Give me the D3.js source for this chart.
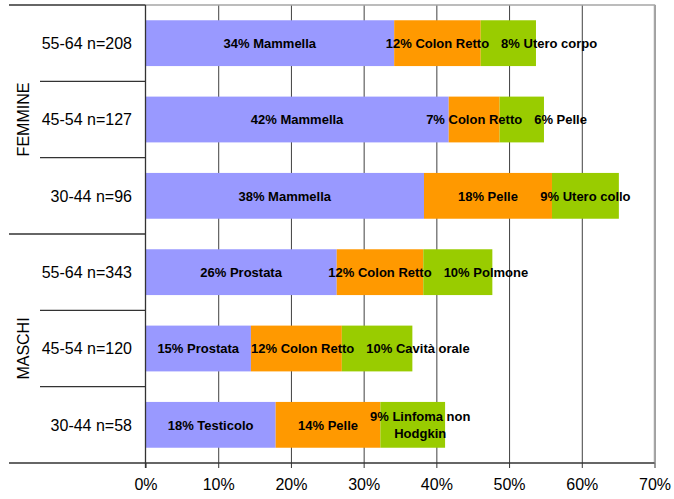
<!DOCTYPE html>
<html>
<head>
<meta charset="utf-8">
<script src="https://cdn.jsdelivr.net/npm/d3@7"></script>
<style>
  body { margin: 0; background: #fff; }
  svg { display: block; font-family: Arial, "Liberation Sans", sans-serif; }
</style>
</head>
<body>
<svg id="chart" width="674" height="499"></svg>
<script>
// rows, top to bottom
const rowLabels = ["55-64 n=208", "45-54 n=127", "30-44 n=96", "55-64 n=343", "45-54 n=120", "30-44 n=58"];
const rowGroups = ["FEMMINE", "FEMMINE", "FEMMINE", "MASCHI", "MASCHI", "MASCHI"];
const groups = ["FEMMINE", "MASCHI"];

// percentages of the three most frequent tumours per row
const firstValues = [34.2, 41.7, 38.3, 26.3, 14.5, 17.9];
const secondValues = [11.9, 7.0, 17.6, 11.9, 12.5, 14.4];
const thirdValues = [7.6, 6.1, 9.2, 9.5, 9.7, 8.9];

const firstLabels = ["34% Mammella", "42% Mammella", "38% Mammella", "26% Prostata", "15% Prostata", "18% Testicolo"];
const secondLabels = ["12% Colon Retto", "7% Colon Retto", "18% Pelle", "12% Colon Retto", "12% Colon Retto", "14% Pelle"];
const thirdLabels = ["8% Utero corpo", "6% Pelle", "9% Utero collo", "10% Polmone", "10% Cavità orale", "9% Linfoma non\nHodgkin"];

const seriesColors = ["#9999FF", "#FF9900", "#99CC00"];
const xTicks = [0, 10, 20, 30, 40, 50, 60, 70];

const svg = d3.select("#chart");
const plot = { left: 145.5, right: 654.5, top: 5, bottom: 463 };

const x = d3.scaleLinear().domain([0, 70]).range([plot.left, plot.right]);
const y = d3.scaleBand().domain(rowLabels.map((d, i) => i))
    .range([plot.top, plot.bottom]).paddingInner(0.4).paddingOuter(0.2);

// stack the three series
const rows = rowLabels.map((name, i) => {
    const vals = [firstValues[i], secondValues[i], thirdValues[i]];
    const labs = [firstLabels[i], secondLabels[i], thirdLabels[i]];
    let acc = 0;
    return vals.map((v, k) => {
        const seg = { row: i, k: k, x0: acc, x1: acc + v, label: labs[k] };
        acc += v;
        return seg;
    });
});

// vertical gridlines
svg.append("g")
    .attr("transform", `translate(0,${plot.bottom})`)
    .call(d3.axisBottom(x).tickValues(xTicks.slice(1)).tickSize(-(plot.bottom - plot.top)).tickFormat(""))
    .call(g => g.select(".domain").remove())
    .selectAll("line").attr("stroke", "#404040");

// bars
svg.append("g")
    .selectAll("g")
    .data(rows)
    .join("g")
    .selectAll("rect")
    .data(d => d)
    .join("rect")
    .attr("x", d => x(d.x0))
    .attr("y", d => y(d.row))
    .attr("width", d => x(d.x1) - x(d.x0))
    .attr("height", y.bandwidth())
    .attr("fill", d => seriesColors[d.k]);

// plot border (top and right, grey)
svg.append("path")
    .attr("d", `M${plot.left},${plot.top}H${plot.right}V${plot.bottom}`)
    .attr("fill", "none")
    .attr("stroke", "#a6a6a6")
    .attr("stroke-width", 1.5);

// bottom axis
const xAxis = svg.append("g")
    .attr("transform", `translate(0,${plot.bottom})`)
    .call(d3.axisBottom(x).tickValues(xTicks).tickSize(5).tickSizeOuter(0).tickFormat(d => d + "%"));
xAxis.select(".domain").remove();
xAxis.selectAll("line").attr("stroke", "#333");
xAxis.selectAll("text")
    .attr("y", 16)
    .attr("font-size", 16)
    .attr("font-family", "Arial, 'Liberation Sans', sans-serif")
    .attr("fill", "#000");

// category axis lines
const step = y.step();
const boundaries = d3.range(rowLabels.length + 1);
svg.append("g")
    .selectAll("line")
    .data(boundaries)
    .join("line")
    .attr("x1", d => (d % 3 === 0 ? 9 : 40))
    .attr("x2", d => (d === rowLabels.length ? plot.right : plot.left))
    .attr("y1", d => plot.top + d * step)
    .attr("y2", d => plot.top + d * step)
    .attr("stroke", "#333")
    .attr("stroke-width", 1.3);

svg.append("line")
    .attr("x1", plot.left).attr("x2", plot.left)
    .attr("y1", plot.top).attr("y2", plot.bottom + 5)
    .attr("stroke", "#333")
    .attr("stroke-width", 1.3);

// row labels
svg.append("g")
    .selectAll("text")
    .data(rowLabels)
    .join("text")
    .attr("x", 132)
    .attr("y", (d, i) => y(i) + y.bandwidth() / 2)
    .attr("dy", "0.36em")
    .attr("text-anchor", "end")
    .attr("font-size", 16)
    .text(d => d);

// group labels
svg.append("g")
    .selectAll("text")
    .data(groups)
    .join("text")
    .attr("transform", g => {
        const idx = rowGroups.map((r, i) => (r === g ? i : -1)).filter(i => i >= 0);
        const cy = (plot.top + idx[0] * step + plot.top + (idx[idx.length - 1] + 1) * step) / 2;
        return `translate(23,${cy}) rotate(-90)`;
    })
    .attr("dy", "0.36em")
    .attr("text-anchor", "middle")
    .attr("font-size", 16)
    .text(d => d);

// data labels, centred on their segment, pushed right when they would overlap
const labelGap = 12;
const labelLayer = svg.append("g");
rows.forEach(row => {
    let prevRight = -Infinity;
    row.forEach(seg => {
        const lines = seg.label.split("\n");
        const t = labelLayer.append("text")
            .attr("font-size", 13)
            .attr("font-weight", "bold")
            .attr("text-anchor", "middle")
            .attr("fill", "#000");
        const cy = y(seg.row) + y.bandwidth() / 2;
        lines.forEach((ln, j) => {
            t.append("tspan")
                .attr("dy", j === 0 ? `${0.36 - (lines.length - 1) * 0.65}em` : "1.3em")
                .text(ln);
        });
        const w = d3.max(t.selectAll("tspan").nodes(), n => n.getComputedTextLength());
        let cx = (x(seg.x0) + x(seg.x1)) / 2;
        if (cx - w / 2 < prevRight + labelGap) cx = prevRight + labelGap + w / 2;
        t.attr("y", cy);
        t.selectAll("tspan").attr("x", cx);
        prevRight = cx + w / 2;
    });
});
</script>
</body>
</html>
